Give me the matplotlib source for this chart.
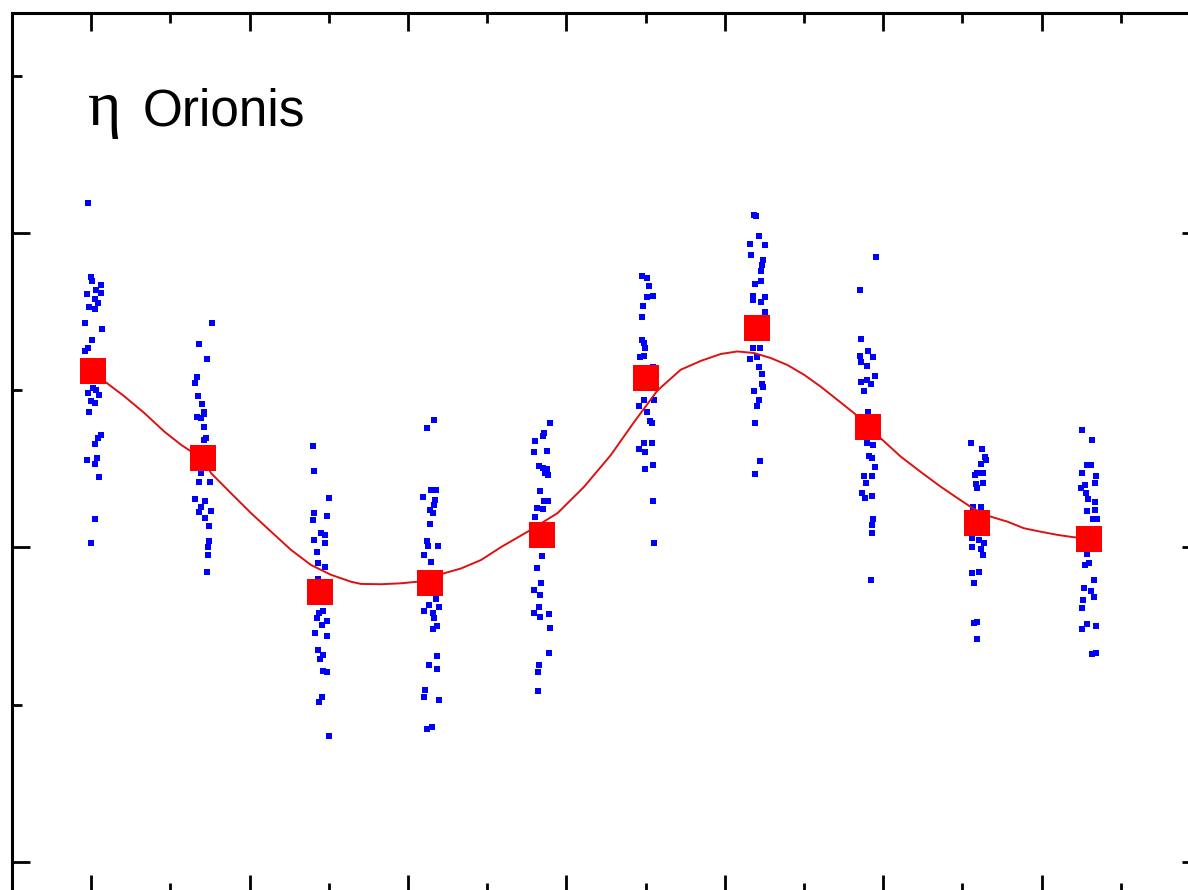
import matplotlib.pyplot as plt
from matplotlib.ticker import MultipleLocator

# Data (axis units arbitrary, no tick labels shown)
# individual observations, one list per phase group
obs_x = [
    [-0.21, -0.04, 0.04, 0.63, -0.25, 0.59, 0.32, 0.21, 0.42, -0.11, 0.21, -0.38, 0.68, 0.04, -0.21, -0.38,
     0.11, -0.21, 0.32, 0.52, -0.04, 0.21, -0.17, 0.59, 0.42, 0.27, -0.25, 0.36, 0.21, 0.49, 0.27, -0.04],
    [7.63, 6.80, 7.32, 6.67, 6.58, 6.73, 7.00, 7.09, 6.67, 6.94, 7.15, 7.11, 7.26, 7.09, 6.94, 6.80,
     7.53, 6.58, 7.19, 6.94, 6.83, 7.57, 7.19, 7.46, 7.43, 7.40, 7.36, 7.32],
    [14.03, 14.09, 15.00, 14.09, 14.87, 13.99, 14.51, 14.78, 14.09, 14.78, 14.24, 14.34, 14.78, 14.30, 14.62,
     14.40, 14.26, 14.87, 14.56, 14.13, 14.87, 14.34, 14.66, 14.47, 14.62, 14.87, 14.56, 14.37, 15.00],
    [21.62, 21.18, 21.45, 21.74, 20.93, 21.72, 21.66, 21.41, 21.56, 21.39, 21.18, 21.24, 21.87, 20.99, 21.45,
     21.77, 21.34, 21.94, 20.99, 21.56, 21.62, 21.81, 21.56, 21.81, 21.31, 21.81, 21.09, 21.03, 21.94, 21.18, 21.49],
    [28.98, 28.60, 28.54, 28.03, 28.77, 27.97, 28.25, 28.50, 28.77, 28.66, 28.81, 28.33, 28.60, 28.81, 28.12,
     28.50, 28.03, 28.45, 28.12, 28.39, 27.93, 28.33, 28.25, 27.97, 28.35, 28.92, 28.98, 28.92, 28.25, 28.18, 28.18],
    [34.76, 35.12, 35.22, 35.12, 35.48, 34.81, 34.76, 34.76, 34.91, 34.97, 34.66, 34.87, 35.44, 34.91, 35.54,
     34.56, 35.08, 35.29, 35.38, 35.39, 34.91, 34.56, 34.97, 34.95, 35.48, 35.48, 35.54],
    [41.85, 41.96, 42.16, 41.60, 42.54, 41.64, 42.42, 42.38, 42.27, 42.27, 41.91, 42.54, 41.81, 41.75, 42.27,
     42.54, 41.75, 42.23, 41.60, 42.02, 42.13, 42.38, 42.44, 42.32, 41.85, 42.13, 42.02, 41.91, 42.23, 41.91],
    [49.53, 48.54, 48.62, 49.07, 48.54, 49.38, 48.62, 49.00, 49.48, 48.96, 48.58, 49.21, 48.79, 49.07, 49.00,
     49.38, 49.10, 49.32, 49.48, 48.79, 49.32, 48.94, 48.69, 48.83, 49.27, 49.38, 49.32, 49.32, 49.21],
    [55.52, 56.21, 56.42, 56.47, 56.15, 55.90, 55.79, 56.32, 55.84, 56.32, 55.94, 55.69, 56.15, 55.58, 56.04,
     56.36, 55.58, 56.15, 56.32, 55.63, 56.04, 55.74, 55.74, 55.90, 55.94],
    [62.52, 63.20, 62.88, 63.14, 62.57, 63.45, 63.36, 62.46, 62.73, 62.78, 62.95, 63.34, 62.84, 63.36, 63.26,
     63.51, 62.84, 62.73, 62.98, 63.30, 62.66, 63.09, 63.30, 62.63, 62.57, 62.88, 62.52, 63.41, 63.20, 63.41],
]
obs_y = [
    [20.96, 18.59, 18.48, 18.35, 18.06, 18.10, 18.17, 17.89, 17.77, 17.63, 17.59, 17.13, 16.94, 16.58, 16.33, 16.26,
     15.06, 14.92, 14.99, 14.85, 14.67, 14.60, 14.29, 13.58, 13.47, 13.29, 12.78, 12.84, 12.65, 12.23, 10.91, 10.13],
    [17.13, 16.48, 15.99, 15.41, 15.22, 14.82, 14.56, 14.29, 14.16, 14.11, 14.25, 13.82, 13.47, 13.40, 12.38, 12.08,
     12.08, 11.53, 11.49, 11.28, 11.14, 11.17, 10.95, 10.68, 10.19, 10.01, 9.76, 9.23],
    [13.21, 12.44, 11.57, 11.11, 11.01, 10.88, 10.45, 10.40, 10.24, 10.13, 9.84, 9.52, 9.39, 8.99, 7.99,
     7.91, 7.75, 7.67, 7.54, 7.27, 7.19, 6.74, 6.58, 6.46, 6.08, 6.03, 5.26, 5.08, 4.01],
    [14.06, 13.79, 11.83, 11.83, 11.60, 11.51, 11.35, 11.19, 11.09, 10.75, 10.19, 10.03, 10.06, 9.76, 9.55,
     8.35, 8.17, 8.10, 7.99, 7.91, 7.77, 7.50, 7.40, 6.55, 6.25, 6.13, 5.47, 5.26, 5.15, 4.22, 4.28],
    [13.95, 13.63, 13.55, 13.37, 13.07, 13.02, 12.59, 12.52, 12.49, 12.36, 12.31, 11.78, 11.49, 11.49, 11.25,
     11.22, 10.98, 9.73, 9.34, 8.88, 8.65, 8.49, 8.10, 7.91, 7.80, 7.88, 7.43, 6.64, 6.26, 6.05, 5.44],
    [18.63, 18.56, 18.32, 17.96, 18.00, 17.69, 17.34, 16.60, 16.51, 16.34, 16.05, 16.09, 15.75, 14.69, 14.69,
     14.48, 14.32, 14.03, 13.95, 13.31, 13.31, 13.12, 13.03, 12.49, 12.62, 11.48, 10.13],
    [20.57, 20.52, 19.91, 19.64, 19.61, 19.30, 19.14, 18.98, 18.79, 18.48, 18.38, 17.96, 18.00, 17.87, 17.79,
     17.47, 16.35, 16.35, 15.99, 16.05, 15.75, 15.52, 15.10, 15.19, 14.96, 14.69, 14.50, 13.97, 12.75, 12.33],
    [19.23, 18.19, 16.62, 16.23, 16.09, 16.05, 15.91, 15.77, 15.45, 15.33, 15.26, 15.19, 14.98, 14.32, 13.31,
     13.26, 12.91, 12.84, 12.57, 12.27, 12.27, 12.06, 11.74, 11.57, 11.64, 10.91, 10.72, 10.47, 8.97],
    [13.31, 13.13, 12.89, 12.78, 12.65, 12.38, 12.31, 12.36, 12.01, 12.04, 11.88, 11.27, 11.27, 10.29, 10.24,
     10.15, 10.01, 9.94, 9.76, 9.18, 9.23, 8.88, 7.59, 7.64, 7.08],
    [13.74, 13.42, 12.62, 12.62, 12.36, 12.28, 12.04, 11.90, 11.97, 11.72, 11.53, 11.43, 11.17, 11.19, 10.91,
     10.91, 9.78, 9.44, 9.50, 8.97, 8.72, 8.62, 8.44, 8.33, 8.09, 7.56, 7.40, 7.50, 6.60, 6.66],
]

# group means
mean_x = [0.13, 7.07, 14.45, 21.39, 28.47, 35.02, 42.05, 49.01, 55.94, 62.98]
mean_y = [15.62, 12.83, 8.57, 8.86, 10.41, 15.38, 16.96, 13.83, 10.79, 10.26]

# fitted curve
fit_x = [0.13, 0.95, 2.10, 3.36, 4.62, 5.68, 6.31, 7.05, 7.57, 8.83, 10.09, 11.36, 12.62, 13.88,
         15.14, 16.40, 17.03, 18.30, 19.56, 20.61, 22.29, 23.34, 24.61, 25.87, 27.55, 29.44, 31.12,
         32.81, 34.28, 35.75, 37.22, 38.49, 39.75, 40.80, 41.85, 42.90, 43.95, 45.00, 46.06, 47.11,
         48.16, 49.84, 51.10, 52.37, 53.63, 54.68, 55.73, 56.78, 57.84, 58.88, 59.94, 60.99, 61.94, 62.97]
fit_y = [15.62, 15.24, 14.80, 14.27, 13.68, 13.26, 13.05, 12.84, 12.36, 11.72, 11.09, 10.50, 9.92, 9.44,
         9.13, 8.91, 8.84, 8.83, 8.86, 8.91, 9.18, 9.33, 9.60, 10.01, 10.50, 11.09, 11.93,
         12.94, 13.99, 14.99, 15.65, 15.93, 16.15, 16.23, 16.18, 16.02, 15.80, 15.49, 15.11, 14.69,
         14.27, 13.47, 12.89, 12.40, 11.93, 11.57, 11.22, 10.98, 10.82, 10.61, 10.50, 10.40, 10.33, 10.27]

fig = plt.figure(figsize=(11.88, 8.90), dpi=100)
ax = fig.add_axes([0.0101, -0.0039, 1.0, 0.9897])

for xs, ys in zip(obs_x, obs_y):
    ax.plot(xs, ys, 's', color='#0000FF', markersize=4.3, markeredgewidth=0, zorder=2)

ax.plot(fit_x, fit_y, color='#DD1111', linewidth=1.4, solid_joinstyle='round', zorder=3)
ax.plot(mean_x, mean_y, 's', color='#FF0000', markersize=18.5, markeredgewidth=0, zorder=4)

ax.set_xlim(-5, 70)
ax.set_ylim(-1, 27)
ax.xaxis.set_major_locator(MultipleLocator(10))
ax.xaxis.set_minor_locator(MultipleLocator(5))
ax.yaxis.set_major_locator(MultipleLocator(10))
ax.yaxis.set_minor_locator(MultipleLocator(5))
ax.tick_params(which='both', direction='in', top=True, right=True,
               labelbottom=False, labelleft=False, width=2.0, color='black')
ax.tick_params(which='major', length=13)
ax.tick_params(which='minor', length=7.2)
for sp in ax.spines.values():
    sp.set_linewidth(2.2)

# label
fig.text(88 / 1188, 1 - 125 / 890, '\u03b7', fontsize=46, family='Liberation Serif', va='baseline')
fig.text(143 / 1188, 1 - 125 / 890, 'Orionis', fontsize=37, family='Liberation Sans', va='baseline')

fig.savefig('out.png', dpi=100)
